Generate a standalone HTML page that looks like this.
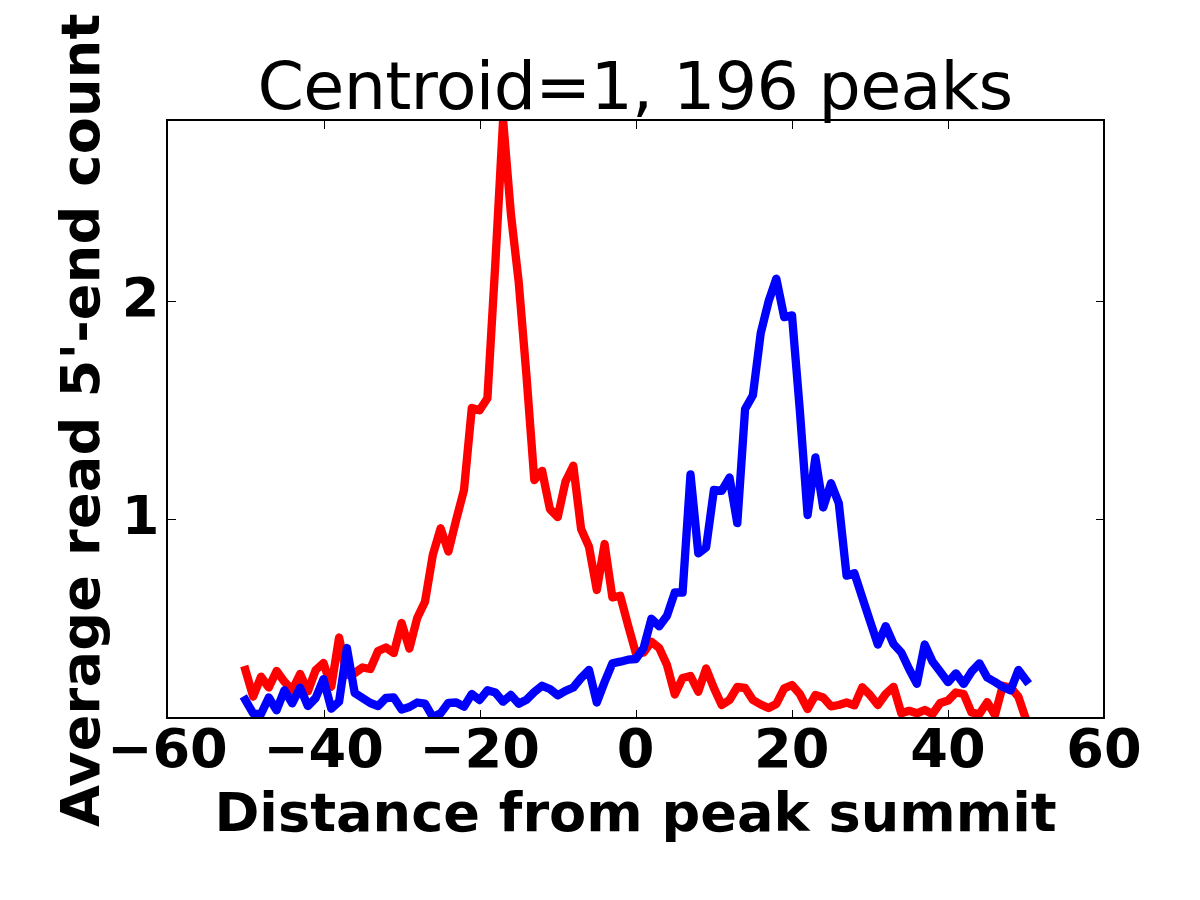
<!DOCTYPE html>
<html lang="en"><head><meta charset="utf-8"><title>Centroid=1, 196 peaks</title>
<style>html,body{margin:0;padding:0;background:#fff;}body{width:1200px;height:900px;overflow:hidden;}svg{display:block;}text{font-family:"DejaVu Sans","Liberation Sans",sans-serif;fill:#000;}.b{font-weight:bold;font-size:54.17px;}.t{font-size:66.67px;}</style></head><body>
<svg width="1200" height="900" viewBox="0 0 1200 900">
<rect x="0" y="0" width="1200" height="900" fill="#fff"/>
<defs><clipPath id="ax"><rect x="167.0" y="120.0" width="937.0" height="598.0"/></clipPath></defs>
<g clip-path="url(#ax)" fill="none" stroke-width="8.33" stroke-linejoin="round" stroke-linecap="square">
<polyline stroke="#ff0000" points="245.4,670.0 253.2,696.5 261.0,676.7 268.8,687.5 276.6,671.0 284.4,681.7 292.2,690.0 300.1,674.0 307.9,691.3 315.7,670.0 323.5,663.0 331.3,686.7 339.1,637.5 346.9,675.0 354.7,673.0 362.5,667.5 370.3,669.0 378.1,651.0 385.9,647.5 393.8,653.0 401.6,623.0 409.4,648.5 417.2,618.0 425.0,601.7 432.8,555.0 440.6,528.3 448.4,551.5 456.2,519.7 464.0,490.0 471.8,408.0 479.6,410.3 487.4,398.3 495.3,264.0 503.1,120.0 510.9,214.0 518.7,282.0 526.5,376.0 534.3,480.0 542.1,470.8 549.9,509.0 557.7,517.0 565.5,481.7 573.3,465.8 581.1,529.0 589.0,546.7 596.8,590.0 604.6,544.0 612.4,597.5 620.2,595.8 628.0,625.0 635.8,653.0 643.6,652.5 651.4,641.7 659.2,648.0 667.0,665.0 674.8,694.5 682.6,678.0 690.5,676.0 698.3,691.7 706.1,668.5 713.9,688.0 721.7,705.0 729.5,700.0 737.3,687.0 745.1,688.0 752.9,700.0 760.7,704.5 768.5,708.0 776.3,704.0 784.2,688.3 792.0,685.0 799.8,694.0 807.6,709.0 815.4,695.0 823.2,697.5 831.0,706.3 838.8,705.0 846.6,702.5 854.4,705.3 862.2,687.3 870.0,695.0 877.8,705.0 885.7,694.0 893.5,686.8 901.3,713.3 909.1,710.8 916.9,713.3 924.7,710.0 932.5,714.0 940.3,703.0 948.1,700.5 955.9,692.5 963.7,694.0 971.5,712.5 979.4,714.0 987.2,702.2 995.0,715.0 1002.8,685.8 1010.6,687.5 1018.4,696.7 1026.2,720.0"/>
<polyline stroke="#0000ff" points="245.4,700.0 253.2,713.5 261.0,714.0 268.8,697.5 276.6,710.3 284.4,690.2 292.2,703.3 300.1,687.7 307.9,706.0 315.7,698.0 323.5,679.1 331.3,708.6 339.1,701.7 346.9,648.0 354.7,693.0 362.5,698.0 370.3,703.0 378.1,706.0 385.9,698.0 393.8,697.5 401.6,709.5 409.4,707.0 417.2,702.5 425.0,703.7 432.8,717.0 440.6,713.4 448.4,702.8 456.2,702.5 464.0,706.7 471.8,694.0 479.6,700.0 487.4,690.3 495.3,692.5 503.1,701.7 510.9,695.0 518.7,703.7 526.5,699.7 534.3,692.0 542.1,685.8 549.9,689.0 557.7,695.3 565.5,690.8 573.3,687.5 581.1,678.0 589.0,670.0 596.8,702.5 604.6,682.0 612.4,663.3 620.2,661.7 628.0,659.7 635.8,659.0 643.6,648.0 651.4,618.7 659.2,626.3 667.0,615.8 674.8,592.5 682.6,592.5 690.5,474.3 698.3,553.3 706.1,547.5 713.9,490.0 721.7,490.8 729.5,477.5 737.3,523.2 745.1,409.0 752.9,395.3 760.7,333.3 768.5,301.7 776.3,278.7 784.2,317.2 792.0,315.3 799.8,410.0 807.6,515.0 815.4,457.5 823.2,507.5 831.0,483.3 838.8,503.3 846.6,575.7 854.4,573.3 862.2,597.3 870.0,621.0 877.8,644.5 885.7,626.2 893.5,644.0 901.3,652.5 909.1,669.0 916.9,683.7 924.7,644.5 932.5,661.5 940.3,671.7 948.1,682.2 955.9,673.3 963.7,684.0 971.5,671.7 979.4,663.3 987.2,677.5 995.0,682.0 1002.8,687.0 1010.6,690.3 1018.4,670.0 1026.2,680.5"/>
</g>
<g fill="#000" shape-rendering="crispEdges">
<rect x="324" y="120" width="1" height="9"/>
<rect x="324" y="710" width="1" height="8"/>
<rect x="480" y="120" width="1" height="9"/>
<rect x="480" y="710" width="1" height="8"/>
<rect x="636" y="120" width="1" height="9"/>
<rect x="636" y="710" width="1" height="8"/>
<rect x="792" y="120" width="1" height="9"/>
<rect x="792" y="710" width="1" height="8"/>
<rect x="948" y="120" width="1" height="9"/>
<rect x="948" y="710" width="1" height="8"/>
<rect x="167" y="301" width="9" height="1"/>
<rect x="1096" y="301" width="8" height="1"/>
<rect x="167" y="519" width="9" height="1"/>
<rect x="1096" y="519" width="8" height="1"/>
</g>
<rect x="167.00" y="120.00" width="937.00" height="598.00" fill="none" stroke="#000" stroke-width="2" shape-rendering="crispEdges"/>
<text class="b" x="167.40" y="766.5" text-anchor="middle">−60</text>
<text class="b" x="323.50" y="766.5" text-anchor="middle">−40</text>
<text class="b" x="479.60" y="766.5" text-anchor="middle">−20</text>
<text class="b" x="635.70" y="766.5" text-anchor="middle">0</text>
<text class="b" x="791.80" y="766.5" text-anchor="middle">20</text>
<text class="b" x="947.90" y="766.5" text-anchor="middle">40</text>
<text class="b" x="1104.00" y="766.5" text-anchor="middle">60</text>
<text class="b" x="159.4" y="533.50" text-anchor="end">1</text>
<text class="b" x="159.4" y="315.50" text-anchor="end">2</text>
<text class="t" x="635" y="109.3" text-anchor="middle" letter-spacing="-0.72">Centroid=1, 196 peaks</text>
<text class="b" x="635.5" y="830.6" text-anchor="middle">Distance from peak summit</text>
<text class="b" transform="translate(99,420.2) rotate(-90)" text-anchor="middle" letter-spacing="0.17">Average read 5'-end count</text>
</svg></body></html>
